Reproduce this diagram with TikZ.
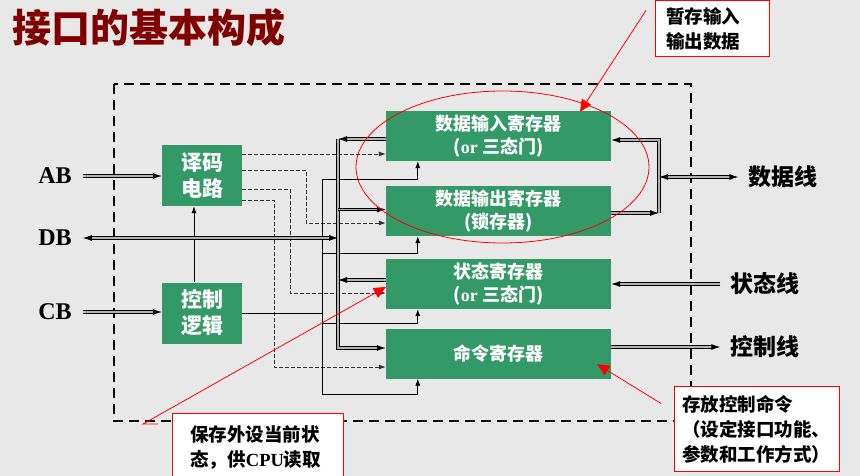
\documentclass[tikz,border=0pt]{standalone}
\usepackage{fontspec}
\setmainfont{Liberation Serif}
\newfontfamily\cjk{Noto Sans CJK SC}
\usetikzlibrary{arrows.meta,calc}

\definecolor{boxgreen}{RGB}{51,153,102}
\definecolor{bggray}{RGB}{232,232,232}
\definecolor{titlered}{RGB}{128,0,0}

\tikzset{
  reg/.style={fill=boxgreen, text=white, inner sep=0pt, align=center,
    font=\cjk\bfseries\fontsize{18}{23}\selectfont,
    minimum width=225pt, minimum height=50pt},
  logic/.style={reg, minimum width=80pt, minimum height=61pt,
    font=\cjk\bfseries\fontsize{21}{26}\selectfont},
  lab/.style={font=\bfseries\fontsize{24}{28}\selectfont, inner xsep=11pt, inner ysep=2pt},
  sig/.style={font=\cjk\bfseries\fontsize{23}{28}\selectfont, inner xsep=10pt, inner ysep=2pt},
  memo/.style={draw=red, fill=white, line width=0.9pt, align=left, anchor=north west,
    inner ysep=2pt, font=\cjk\bfseries\fontsize{18.5}{25}\selectfont},
  bus/.style={line width=0.9pt, double=gray!60, double distance=1.8pt},
  ctrl/.style={line width=0.8pt},
  sel/.style={line width=0.8pt, black!80, dash pattern=on 3.5pt off 2.5pt},
  note/.style={red, line width=0.8pt},
  arr/.style={-{Latex[length=9pt,width=6pt]}},
  arrs/.style={-{Latex[length=7pt,width=5pt]}},
  arr2/.style={{Latex[length=9pt,width=6pt]}-{Latex[length=9pt,width=6pt]}},
  tri/.style={-{Triangle[length=12pt,width=11pt]}},
}

\begin{document}
\begin{tikzpicture}[x=1pt, y=-1pt]
\useasboundingbox (0,0) rectangle (860,476);
\fill[bggray] (0,0) rectangle (860,476);

% title
\node[anchor=west, inner sep=0pt, text=titlered, font=\cjk\bfseries\fontsize{39}{44}\selectfont]
  (title) at (12,28) {接口的基本构成};

% interface frame
\draw[line width=2.5pt, dash pattern=on 10pt off 6pt] (114,84) rectangle (691,421);

% blocks
\node[logic] (dec) at (202,175.5) {译码\\电路};
\node[logic] (ctl) at (202,313) {控制\\逻辑};
\node[reg] (din) at (498.5,136) {数据输入寄存器\\({\rmfamily or} 三态门)};
\node[reg] (dout) at (498.5,211) {数据输出寄存器\\(锁存器)};
\node[reg] (stat) at (498.5,284) {状态寄存器\\({\rmfamily or} 三态门)};
\node[reg] (cmd) at (498.5,353.5) {命令寄存器};

% bus names
\node[lab] (ab) at (55,176) {AB};
\node[lab] (db) at (55,238) {DB};
\node[lab] (cb) at (55,312) {CB};
\node[sig] (dline) at (783,177) {数据线};
\node[sig] (sline) at (765,284) {状态线};
\node[sig] (cline) at (765,347) {控制线};

% junctions
\coordinate (bjA) at (338,139);
\coordinate (bjO) at (338,209.5);
\coordinate (bjD) at (338,238);
\coordinate (bjS) at (338,280);
\coordinate (rt) at (659,140);
\coordinate (rm) at (659,177);
\coordinate (rb) at (659,213);
\coordinate (k1) at (322,179);
\coordinate (k2) at (322,253);
\coordinate (k3) at (322,323);
\coordinate (k4) at (322,394);
\coordinate (s2) at (306,223);
\coordinate (s3) at (290,293);
\coordinate (s4) at (274,367);

% select lines from the decoder
\draw[sel,arrs] ([yshift=21.5pt]dec.east) -- ([yshift=-18pt]din.west);
\foreach \dy/\s/\r in {5.5/s2/dout,-13.5/s3/stat,-24.5/s4/cmd}
  \draw[sel,arrs] ([yshift=\dy pt]dec.east) -| (\s) -- (\s -| \r.west);

% control lines
\draw[ctrl] (ctl.east) -- (ctl.east -| k1);
\draw[ctrl] (k1) -- (k4);
\foreach \r/\k in {din/k1,dout/k2,stat/k3,cmd/k4}
  \draw[ctrl,arrs] (\k) -| ([xshift=32pt]\r.south west);
\draw[ctrl,arrs] ([xshift=-8pt]ctl.north) -- ([xshift=-8pt]dec.south);

% system side
\draw[bus,arr] (ab.east) -- (ab.east -| dec.west);
\draw[bus,arr] (cb.east) -- (cb.east -| ctl.west);
\draw[bus,arr2] (db.east) -- (bjD);
\draw[bus,arr] ([yshift=-3pt]din.west) -- (bjA);
\draw[bus,arr] (bjA) |- ([yshift=5.5pt]cmd.west);
\draw[bus,arr] (bjO) -- ([yshift=1.5pt]dout.west);
\draw[bus,arr] ([yshift=4pt]stat.west) -- (bjS);

% device side
\draw[bus,arr] (rb) -- (rt) -- ([yshift=-4pt]din.east);
\draw[bus,arr] ([yshift=-2pt]dout.east) -- (rb);
\draw[bus,arr2] (rm) -- (dline.west);
\draw[bus,arr] (sline.west) -- (stat.east);
\draw[bus,arr] ([yshift=6.5pt]cmd.east) -- (cline.west);

% notes
\draw[note] (502.5,167) ellipse [x radius=146.5, y radius=76];
\node[memo, text width=92pt, inner xsep=11pt, minimum height=56pt] (co1) at (655,0) {暂存输入\\输出数据};
\node[memo, text width=135pt, inner xsep=18pt, minimum height=69pt] (co2) at (172,413) {保存外设当前状\\态，供{\rmfamily CPU}读取};
\node[memo, text width=149pt, inner xsep=8pt, minimum height=85pt] (co3) at (674,386) {存放控制命令\\（设定接口功能、\\参数和工作方式）};
\draw[note,tri] ([xshift=-9pt,yshift=18pt]co1.west) -- ([xshift=81.5pt,yshift=-1pt]din.north);
\draw[note,tri] ([xshift=-14pt,yshift=-11pt]co2.north west) -- ([xshift=-29pt,yshift=-11pt]co2.north west) -- ([yshift=-3pt]stat.west);
\draw[note,tri] ([xshift=-13pt,yshift=25.5pt]co3.west) -- ([xshift=-14pt,yshift=14.5pt]cmd.south east);

\end{tikzpicture}
\end{document}
